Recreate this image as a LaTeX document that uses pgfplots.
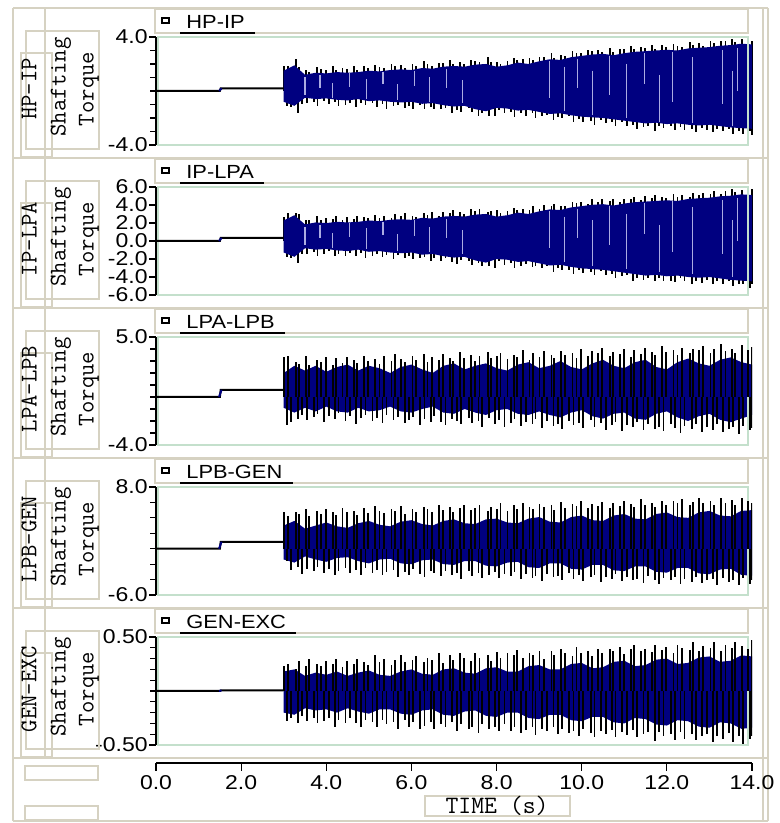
\documentclass[border=0pt]{standalone}
\usepackage{fontspec}
\setmainfont{Liberation Sans}
\newfontfamily\uifont[FakeStretch=1.15]{Liberation Sans}
\usepackage{pgfplots}
\pgfplotsset{compat=1.18}
\usepackage{pgfplotstable}
\usepgfplotslibrary{fillbetween}
\usetikzlibrary{calc}

\definecolor{panelframe}{RGB}{214,210,194}
\definecolor{plotframe}{RGB}{196,224,204}
\definecolor{wave}{RGB}{0,0,128}
\definecolor{gap}{RGB}{172,172,226}

\newcommand\tickfont{\uifont\fontsize{10}{11}\selectfont}
\newcommand\titlefont{\uifont\fontsize{9.5}{10}\selectfont}
\newcommand\labfont{\ttfamily\fontsize{12}{12}\selectfont}

% peak torques of the oscillation: upper peaks at time t, lower peaks at time s
\pgfplotstableread{
t s h1 l1 h2 l2 h3 l3 h4 l4 h5 l5
3.008 3.075 1.84 -1.13 2.67 -1.82 3.30 -2.30 4.80 -1.60 0.23 -0.28
3.101 3.164 1.88 -1.19 3.14 -1.93 3.40 -2.10 4.26 -2.72 0.25 -0.25
3.282 3.331 2.36 -1.65 3.06 -2.50 2.93 -1.81 4.76 -2.38 0.20 -0.30
3.367 3.438 1.81 -0.99 2.98 -1.50 2.76 -1.46 4.53 -3.23 0.28 -0.23
3.516 3.551 1.58 -0.87 2.29 -1.41 3.40 -1.92 5.15 -2.65 0.23 -0.28
3.593 3.718 1.42 -0.83 2.29 -1.23 2.69 -1.66 4.21 -2.91 0.30 -0.25
3.774 3.795 1.77 -1.10 2.81 -1.63 3.07 -1.41 4.95 -2.33 0.25 -0.30
3.875 3.944 1.62 -0.73 2.28 -1.41 2.90 -2.05 4.49 -3.19 0.23 -0.28
3.984 4.057 1.52 -0.97 2.50 -1.16 3.36 -1.61 5.10 -2.60 0.28 -0.25
4.165 4.212 1.85 -0.84 2.45 -1.70 2.65 -1.80 4.76 -3.46 0.25 -0.33
4.226 4.289 1.58 -1.11 2.82 -1.45 3.21 -1.37 4.42 -2.88 0.30 -0.27
4.383 4.450 1.72 -1.01 2.31 -1.63 2.86 -2.01 5.28 -2.54 0.22 -0.30
4.492 4.551 1.61 -0.89 2.63 -1.34 3.32 -1.57 4.70 -3.16 0.28 -0.25
4.657 4.706 1.84 -1.15 2.43 -1.71 3.06 -2.21 4.95 -2.81 0.25 -0.30
4.718 4.813 1.54 -0.88 2.76 -1.31 2.81 -1.78 4.37 -3.43 0.30 -0.33
4.891 4.920 1.83 -1.05 2.65 -1.89 3.45 -1.52 5.23 -2.49 0.27 -0.27
4.984 5.087 1.72 -0.90 2.55 -1.68 3.01 -1.98 4.65 -3.11 0.24 -0.29
5.149 5.182 1.90 -1.18 2.94 -1.43 3.20 -1.72 5.51 -2.77 0.33 -0.33
5.250 5.319 1.75 -0.94 2.59 -1.73 2.77 -2.19 4.92 -3.38 0.27 -0.27
5.351 5.414 1.68 -1.30 2.79 -1.61 3.41 -1.48 4.58 -3.04 0.30 -0.31
5.532 5.581 2.01 -1.13 2.56 -2.02 2.97 -1.94 5.20 -2.70 0.24 -0.29
5.617 5.676 1.84 -1.01 3.02 -1.53 3.61 -1.68 4.86 -3.68 0.29 -0.35
5.758 5.843 1.94 -1.27 2.75 -1.90 3.18 -2.15 5.48 -2.98 0.33 -0.27
5.843 5.938 1.72 -1.10 3.14 -1.66 2.92 -1.89 4.53 -3.35 0.27 -0.33
6.024 6.045 1.97 -1.30 2.80 -1.95 3.38 -1.63 5.15 -2.65 0.29 -0.29
6.109 6.200 1.84 -1.03 2.72 -1.89 3.12 -2.36 4.81 -3.27 0.32 -0.35
6.290 6.307 2.20 -1.32 3.14 -1.80 3.59 -1.84 5.43 -3.65 0.27 -0.32
6.375 6.462 1.98 -1.16 2.93 -2.27 2.88 -2.12 5.09 -2.95 0.31 -0.29
6.476 6.539 1.83 -1.36 3.18 -1.85 3.34 -1.59 4.74 -3.20 0.29 -0.35
6.641 6.694 2.10 -1.31 2.80 -2.18 3.08 -2.05 5.72 -3.58 0.35 -0.31
6.742 6.801 2.06 -1.24 3.22 -1.90 3.55 -2.34 5.02 -2.88 0.26 -0.33
6.907 6.956 2.28 -1.65 3.07 -2.30 3.29 -1.81 5.40 -3.38 0.33 -0.29
6.968 7.063 1.99 -1.43 3.41 -2.58 3.03 -2.00 4.70 -3.16 0.29 -0.37
7.133 7.170 2.16 -1.54 3.19 -2.14 3.76 -2.28 5.31 -3.89 0.35 -0.31
7.234 7.343 2.02 -1.25 2.98 -2.24 3.24 -1.76 5.69 -2.83 0.31 -0.35
7.399 7.432 2.30 -1.59 3.58 -2.62 3.52 -2.13 4.99 -3.57 0.28 -0.33
7.500 7.575 2.25 -1.85 3.32 -2.44 2.99 -1.96 5.25 -3.11 0.35 -0.39
7.601 7.664 2.16 -1.66 3.54 -2.81 3.45 -2.51 5.63 -3.85 0.31 -0.31
7.790 7.819 2.50 -1.83 3.21 -2.81 3.74 -1.72 4.92 -3.38 0.33 -0.35
7.867 7.962 2.16 -1.84 3.36 -3.01 3.21 -2.27 5.42 -3.04 0.28 -0.33
8.016 8.051 2.18 -1.44 3.40 -2.22 3.40 -1.92 5.20 -3.78 0.36 -0.37
8.093 8.188 1.99 -1.65 3.11 -2.66 3.68 -2.47 5.94 -3.32 0.31 -0.31
8.258 8.331 2.24 -1.58 3.30 -2.43 3.16 -2.13 4.88 -3.58 0.35 -0.37
8.407 8.420 2.46 -1.93 3.63 -2.95 3.53 -1.87 5.61 -2.99 0.33 -0.33
8.484 8.569 2.32 -1.60 3.42 -2.80 3.36 -2.42 5.15 -3.97 0.38 -0.39
8.625 8.682 2.35 -1.84 3.58 -2.55 3.91 -2.07 5.89 -3.27 0.31 -0.36
8.774 8.843 2.42 -1.64 3.39 -2.91 3.12 -2.27 5.43 -3.77 0.35 -0.33
8.851 8.914 2.28 -1.98 3.90 -2.78 3.67 -1.83 5.09 -3.55 0.33 -0.41
9.008 9.075 2.54 -1.88 3.50 -3.02 3.32 -2.56 5.82 -4.16 0.37 -0.35
9.117 9.176 2.54 -1.81 3.98 -2.81 3.87 -2.03 5.36 -3.22 0.30 -0.37
9.290 9.337 2.85 -2.16 3.84 -3.46 3.53 -2.41 5.62 -3.72 0.37 -0.33
9.343 9.438 2.46 -1.96 4.15 -3.04 3.27 -2.24 5.04 -3.50 0.33 -0.40
9.516 9.545 2.68 -2.02 3.89 -3.25 3.82 -2.70 6.02 -4.00 0.39 -0.35
9.609 9.706 2.62 -1.87 3.85 -3.23 3.47 -1.99 5.31 -3.17 0.35 -0.39
9.782 9.807 2.96 -2.30 4.36 -3.68 3.67 -2.37 5.81 -3.91 0.32 -0.37
9.875 9.944 2.85 -2.09 4.19 -3.24 3.23 -2.20 5.59 -3.45 0.41 -0.42
9.976 10.039 2.78 -2.32 4.38 -3.58 3.96 -2.57 6.21 -4.19 0.35 -0.35
10.149 10.212 3.07 -2.25 4.15 -3.48 3.43 -1.95 5.27 -3.73 0.37 -0.39
10.242 10.301 2.96 -2.50 4.71 -3.79 3.81 -2.51 5.76 -3.38 0.32 -0.43
10.383 10.450 3.06 -2.17 4.37 -3.39 3.64 -2.16 5.54 -4.36 0.39 -0.37
10.468 10.563 2.89 -2.37 4.66 -3.81 4.10 -2.71 6.04 -3.66 0.35 -0.40
10.657 10.718 3.16 -2.33 4.47 -3.63 3.39 -2.36 5.22 -3.92 0.39 -0.36
10.734 10.795 2.87 -2.56 4.69 -4.10 3.77 -2.11 5.96 -3.34 0.37 -0.43
10.891 10.944 3.10 -2.30 4.31 -3.92 3.60 -2.84 5.49 -4.19 0.41 -0.38
11.000 11.057 3.10 -2.62 4.67 -3.80 3.97 -2.31 6.23 -3.61 0.34 -0.41
11.165 11.206 3.35 -2.49 4.62 -4.40 3.35 -2.50 5.77 -4.11 0.39 -0.36
11.226 11.289 3.08 -2.80 4.94 -4.09 3.91 -2.07 5.43 -3.89 0.43 -0.43
11.383 11.450 3.26 -2.68 4.54 -4.30 3.56 -2.71 6.41 -4.39 0.37 -0.40
11.492 11.551 3.21 -2.59 4.95 -4.06 4.11 -2.27 5.70 -3.56 0.39 -0.38
11.649 11.712 3.40 -2.93 4.75 -4.48 3.76 -2.64 5.96 -4.06 0.36 -0.46
11.718 11.813 3.14 -2.63 5.14 -4.11 3.51 -2.48 5.38 -4.56 0.43 -0.38
11.891 11.920 3.40 -2.77 4.93 -4.45 4.24 -2.85 6.24 -3.86 0.38 -0.42
11.984 12.093 3.27 -2.60 4.79 -4.40 3.71 -2.23 5.66 -4.12 0.41 -0.40
12.157 12.182 3.48 -2.88 5.23 -4.61 3.90 -2.60 6.15 -3.65 0.35 -0.45
12.250 12.319 3.30 -2.64 4.84 -4.12 3.47 -2.98 5.93 -4.51 0.43 -0.38
12.351 12.414 3.26 -2.87 5.08 -4.46 4.11 -2.45 6.43 -3.93 0.40 -0.44
12.540 12.581 3.65 -2.83 4.88 -4.80 3.67 -2.64 5.61 -4.31 0.38 -0.40
12.617 12.676 3.44 -3.02 5.34 -4.44 4.04 -2.29 6.11 -3.61 0.45 -0.45
12.758 12.825 3.54 -2.74 5.07 -4.62 3.88 -2.94 6.60 -4.46 0.37 -0.42
12.843 12.938 3.36 -2.89 5.34 -4.31 4.25 -2.50 5.90 -4.12 0.42 -0.40
13.024 13.087 3.67 -3.05 5.26 -4.74 3.63 -2.78 6.16 -3.90 0.40 -0.47
13.109 13.170 3.52 -2.83 5.58 -4.49 4.00 -2.25 5.70 -4.76 0.45 -0.42
13.266 13.319 3.73 -2.97 5.23 -4.77 4.38 -2.90 6.56 -3.82 0.37 -0.44
13.375 13.468 3.68 -2.84 5.51 -4.46 3.85 -2.64 5.97 -4.31 0.43 -0.39
13.532 13.557 3.86 -3.20 5.78 -4.99 4.04 -2.47 6.35 -4.09 0.40 -0.47
13.601 13.700 3.63 -3.00 5.49 -4.83 3.69 -3.11 5.65 -4.71 0.45 -0.42
13.758 13.789 3.84 -3.17 5.69 -4.75 4.34 -2.41 6.51 -3.77 0.42 -0.49
13.915 13.955 3.98 -2.93 5.42 -5.25 3.90 -2.78 6.17 -4.51 0.39 -0.44
13.992 13.995 3.71 -3.26 5.79 -4.76 4.18 -2.61 5.94 -4.04 0.47 -0.42
}\spikes

% envelope of the dense oscillation body (upper / lower)
\pgfplotstableread{
t u1 d1 u2 d2 u3 d3 u4 d4 u5 d5
3.00 1.50 -0.80 2.28 -1.28 2.0 -0.9 3.0 -1.4 0.18 -0.20
3.25 1.90 -1.10 2.86 -1.76 2.6 -1.3 3.6 -1.8 0.20 -0.22
3.50 1.20 -0.50 1.84 -0.80 2.2 -0.9 2.6 -1.0 0.14 -0.16
3.75 1.35 -0.60 2.06 -0.96 2.6 -1.2 3.0 -1.4 0.17 -0.18
4.00 1.30 -0.55 1.99 -0.88 2.1 -0.8 3.4 -1.7 0.15 -0.17
4.25 1.40 -0.65 2.13 -1.04 2.5 -1.2 2.9 -1.2 0.18 -0.20
4.50 1.35 -0.70 2.06 -1.12 2.7 -1.3 2.7 -1.1 0.14 -0.16
4.75 1.40 -0.60 2.13 -0.96 2.2 -0.9 3.3 -1.6 0.17 -0.19
5.00 1.50 -0.75 2.28 -1.20 2.6 -1.2 3.6 -1.9 0.19 -0.21
5.25 1.45 -0.70 2.20 -1.12 2.4 -1.1 3.1 -1.4 0.15 -0.17
5.50 1.55 -0.80 2.35 -1.28 2.0 -0.8 2.9 -1.3 0.14 -0.17
5.75 1.60 -0.85 2.42 -1.36 2.5 -1.2 3.5 -1.9 0.18 -0.21
6.00 1.55 -0.80 2.35 -1.28 2.7 -1.3 3.7 -2.0 0.20 -0.22
6.25 1.70 -0.95 2.57 -1.52 2.3 -1.0 3.2 -1.5 0.16 -0.18
6.50 1.65 -0.90 2.49 -1.44 2.0 -0.8 3.0 -1.4 0.15 -0.17
6.75 1.80 -1.05 2.71 -1.68 2.6 -1.3 3.6 -2.0 0.20 -0.22
7.00 1.85 -1.15 2.78 -1.84 2.8 -1.4 3.8 -2.1 0.21 -0.23
7.25 1.80 -1.10 2.71 -1.76 2.3 -1.0 3.3 -1.6 0.17 -0.19
7.50 1.95 -1.35 2.93 -2.16 2.6 -1.3 3.2 -1.6 0.16 -0.18
7.75 2.00 -1.50 3.00 -2.40 2.8 -1.5 3.8 -2.2 0.21 -0.23
8.00 1.80 -1.25 2.71 -2.00 2.4 -1.1 3.9 -2.3 0.22 -0.24
8.25 1.90 -1.30 2.86 -2.08 2.2 -1.0 3.4 -1.8 0.18 -0.20
8.50 2.10 -1.45 3.15 -2.32 2.7 -1.4 3.3 -1.7 0.18 -0.20
8.75 2.00 -1.40 3.00 -2.24 2.9 -1.5 3.9 -2.4 0.23 -0.25
9.00 2.20 -1.55 3.29 -2.48 2.4 -1.2 4.1 -2.5 0.24 -0.26
9.25 2.35 -1.70 3.51 -2.72 2.6 -1.5 3.5 -1.9 0.20 -0.22
9.50 2.30 -1.65 3.44 -2.64 3.0 -1.7 3.4 -1.9 0.20 -0.22
9.75 2.50 -1.80 3.73 -2.88 2.5 -1.3 4.1 -2.6 0.25 -0.27
10.00 2.60 -1.90 3.87 -3.04 2.3 -1.1 4.3 -2.7 0.26 -0.28
10.25 2.70 -1.95 4.02 -3.12 2.8 -1.6 3.7 -2.1 0.21 -0.24
10.50 2.75 -2.00 4.09 -3.20 3.1 -1.8 3.6 -2.1 0.22 -0.24
10.75 2.65 -2.10 3.94 -3.36 2.6 -1.4 4.3 -2.8 0.27 -0.29
11.00 2.80 -2.20 4.16 -3.52 2.4 -1.3 4.5 -2.9 0.28 -0.30
11.25 2.90 -2.30 4.31 -3.68 2.9 -1.8 3.9 -2.3 0.23 -0.25
11.50 2.95 -2.40 4.38 -3.84 3.1 -1.9 3.8 -2.3 0.24 -0.26
11.75 3.00 -2.35 4.45 -3.76 2.5 -1.4 4.5 -3.0 0.29 -0.31
12.00 3.05 -2.45 4.52 -3.92 2.3 -1.2 4.7 -3.1 0.30 -0.32
12.25 3.00 -2.40 4.45 -3.84 2.9 -1.7 4.1 -2.5 0.25 -0.27
12.50 3.15 -2.50 4.67 -4.00 3.2 -2.0 4.0 -2.5 0.26 -0.28
12.75 3.20 -2.55 4.74 -4.08 2.8 -1.6 4.7 -3.2 0.31 -0.33
13.00 3.25 -2.50 4.81 -4.00 2.6 -1.4 4.9 -3.3 0.32 -0.34
13.25 3.35 -2.60 4.96 -4.16 3.1 -1.9 4.3 -2.7 0.27 -0.29
13.50 3.40 -2.70 5.03 -4.32 3.3 -2.1 4.2 -2.6 0.28 -0.30
13.75 3.50 -2.75 5.18 -4.40 2.9 -1.8 4.9 -3.4 0.33 -0.35
14.00 3.45 -2.80 5.10 -4.48 2.7 -1.5 5.0 -3.5 0.32 -0.34
}\envelope

% light gaps inside the oscillation body: time, upper end, lower end
\pgfplotstableread{
t a1 b1 a2 b2
3.50 1.00 -0.30 1.50 -0.50
3.85 1.20 0.20 1.80 0.30
4.15 0.60 -0.50 0.90 -0.80
4.55 1.30 0.30 2.00 0.40
4.95 0.90 -0.60 1.40 -0.90
5.33 1.40 0.50 2.10 0.70
5.68 0.50 -0.70 0.80 -1.10
6.08 1.50 0.40 2.30 0.60
6.43 1.00 -0.80 1.50 -1.20
6.83 1.60 0.20 2.40 0.30
7.20 0.80 -0.90 1.20 -1.40
9.25 2.20 -0.50 3.30 -0.80
9.60 1.80 -1.50 2.70 -2.30
9.90 2.40 0.20 3.60 0.30
10.26 1.50 -1.80 2.30 -2.80
10.66 2.60 -0.30 3.90 -0.50
11.06 2.00 -2.00 3.00 -3.10
11.48 2.80 0.50 4.20 0.80
11.83 1.20 -2.30 1.80 -3.50
12.14 2.90 -0.80 4.40 -1.20
12.61 2.50 -2.40 3.80 -3.70
13.31 3.00 -1.00 4.50 -1.50
13.55 1.50 -2.60 2.30 -4.00
13.66 3.20 0.00 4.80 0.00
}\gaps

\pgfplotsset{
  panel/.style={
    set layers,
    scale only axis, width=298pt, height=54pt,
    anchor=south west,
    xmin=0, xmax=14,
    axis x line=none, axis y line*=left,
    axis line style={black, line width=0.75pt},
    tick align=outside,
    major tick length=3.5pt, minor tick length=3pt,
    tick style={black, line width=0.6pt},
    yticklabel style={font=\tickfont, inner sep=0.5pt},
    xtick=\empty,
  },
}

% one shaft section: peaks (on the given layer), oscillation body, pre-disturbance trace
\newcommand\shaftsection[4]{%
  \addplot[ycomb, black, line width=0.9pt, mark=none, on layer=#4] table[x=t, y=h#1] {\spikes};
  \addplot[ycomb, black, line width=0.9pt, mark=none, on layer=#4] table[x=s, y=l#1] {\spikes};
  \addplot[draw=none, name path=up#1] table[x=t, y=u#1] {\envelope};
  \addplot[draw=none, name path=dn#1] table[x=t, y=d#1] {\envelope};
  \addplot[wave, draw=none] fill between[of=up#1 and dn#1];
  \addplot[black, line width=1pt] coordinates {(0,#2) (1.5,#2) (1.52,#3) (3.0,#3)};
  \addplot[wave, line width=1pt] coordinates {(1.48,#2) (1.54,#3)};
}
% light gaps drawn as short vertical strokes
\newcommand\gapstrokes[1]{%
  \pgfplotsinvokeforeach{0,...,23}{%
    \pgfplotstablegetelem{##1}{t}\of\gaps \let\gt\pgfplotsretval
    \pgfplotstablegetelem{##1}{a#1}\of\gaps \let\ga\pgfplotsretval
    \pgfplotstablegetelem{##1}{b#1}\of\gaps \let\gb\pgfplotsretval
    \edef\gapcmd{\noexpand\addplot[gap, line width=0.6pt] coordinates {(\gt,\ga) (\gt,\gb)};}%
    \gapcmd
  }%
}

\begin{document}
\begin{tikzpicture}[x=0.5pt, y=0.5pt]
\path (0,0) rectangle (780,823);

% window frame
\begin{scope}[panelframe, line width=0.8pt]
  \draw (13,2) -- (13,815);
  \draw (763,2) -- (763,815);
  \draw (768,2) -- (768,815);
  \draw (13,2) -- (768,2);
  \draw (13,65) -- (768,65);
  \draw (25,43) rectangle (98,57);
  \draw (25,3) rectangle (98,17);
  \draw (425,7) rectangle (570,27);
\end{scope}
\node[font=\ttfamily\fontsize{12.5}{13}\selectfont] at (497,17) {TIME (s)};

\foreach \p/\name/\rname in {0/HP-IP/{HP\textendash IP},1/IP-LPA/{IP\textendash LPA},
    2/LPA-LPB/{LPA\textendash LPB},3/LPB-GEN/{LPB\textendash GEN},4/GEN-EXC/{GEN\textendash EXC}}{
  \pgfmathsetmacro\yt{786-150*\p}
  \pgfmathsetmacro\yb{678-150*\p}
  \pgfmathsetmacro\ym{734-150*\p}
  \begin{scope}[panelframe, line width=0.8pt]
    \draw (13,\yt+29) -- (768,\yt+29);
    \draw (155,\yt+4) rectangle (748,\yt+28);
    \draw (26,\yt+6) rectangle (99,\yb-4);
    \draw (21,\yb-12) rectangle (52,\ym+36);
    \draw (45,\yb-12) -- (45,\yt+28);
  \end{scope}
  \draw[plotframe, line width=0.8pt] (158,\yb) rectangle (748,\yt);
  \draw[black, line width=0.6pt] (162,\yt+14) rectangle (169,\yt+19);
  \node[anchor=base west, inner sep=0pt, font=\titlefont] (t\p) at (186,\yt+8) {\name};
  \draw[black, line width=0.7pt] (180,\yt+4) -- ($(t\p.base east)+(10,-4)$);
  \node[rotate=90, font=\labfont] at (29,\ym) {\rname};
  \node[rotate=90, font=\labfont] at (61,\ym+2) {Shafting};
  \node[rotate=90, font=\labfont] at (89,\ym) {Torque};
}

\begin{axis}[panel, at={(78pt,339pt)}, ymin=-4, ymax=4,
  ytick={-4,4}, yticklabels={-4.0,4.0}, minor ytick={-3,-2,-1,0,1,2,3}]
  \shaftsection{1}{0}{0.2}{axis background}
  \gapstrokes{1}
\end{axis}

\begin{axis}[panel, at={(78pt,264pt)}, ymin=-6, ymax=6,
  ytick={-6,-4,-2,0,2,4,6}, yticklabels={-6.0,-4.0,-2.0,0.0,2.0,4.0,6.0}]
  \shaftsection{2}{0}{0.35}{axis background}
  \gapstrokes{2}
\end{axis}

\begin{axis}[panel, at={(78pt,189pt)}, ymin=-4, ymax=5,
  ytick={-4,5}, yticklabels={-4.0,5.0}, minor ytick={-3,-2,-1,0,1,2,3,4}]
  \shaftsection{3}{0}{0.6}{main}
\end{axis}

\begin{axis}[panel, at={(78pt,114pt)}, ymin=-6, ymax=8,
  ytick={-6,8}, yticklabels={-6.0,8.0}, minor ytick={-4,-2,0,2,4,6}]
  \shaftsection{4}{0}{0.9}{main}
\end{axis}

\begin{axis}[panel, at={(78pt,39pt)}, ymin=-0.5, ymax=0.5,
  ytick={-0.5,0.5}, yticklabels={-0.50,0.50},
  minor ytick={-0.4,-0.3,-0.2,-0.1,0,0.1,0.2,0.3,0.4}]
  \shaftsection{5}{0}{0.005}{main}
\end{axis}

% time axis
\begin{axis}[at={(78pt,30pt)}, anchor=south west, scale only axis,
  width=298pt, height=1pt, xmin=0, xmax=14, ymin=0, ymax=1,
  axis y line=none, axis x line*=bottom,
  axis line style={black, line width=0.75pt},
  xtick={0,2,4,6,8,10,12,14},
  xticklabels={0.0,2.0,4.0,6.0,8.0,10.0,12.0,14.0},
  tick align=outside, major tick length=4pt,
  tick style={black, line width=0.6pt},
  xticklabel style={font=\tickfont, inner sep=0pt, yshift=-2pt}]
  \addplot[draw=none] coordinates {(0,0.5)};
\end{axis}
\end{tikzpicture}
\end{document}
